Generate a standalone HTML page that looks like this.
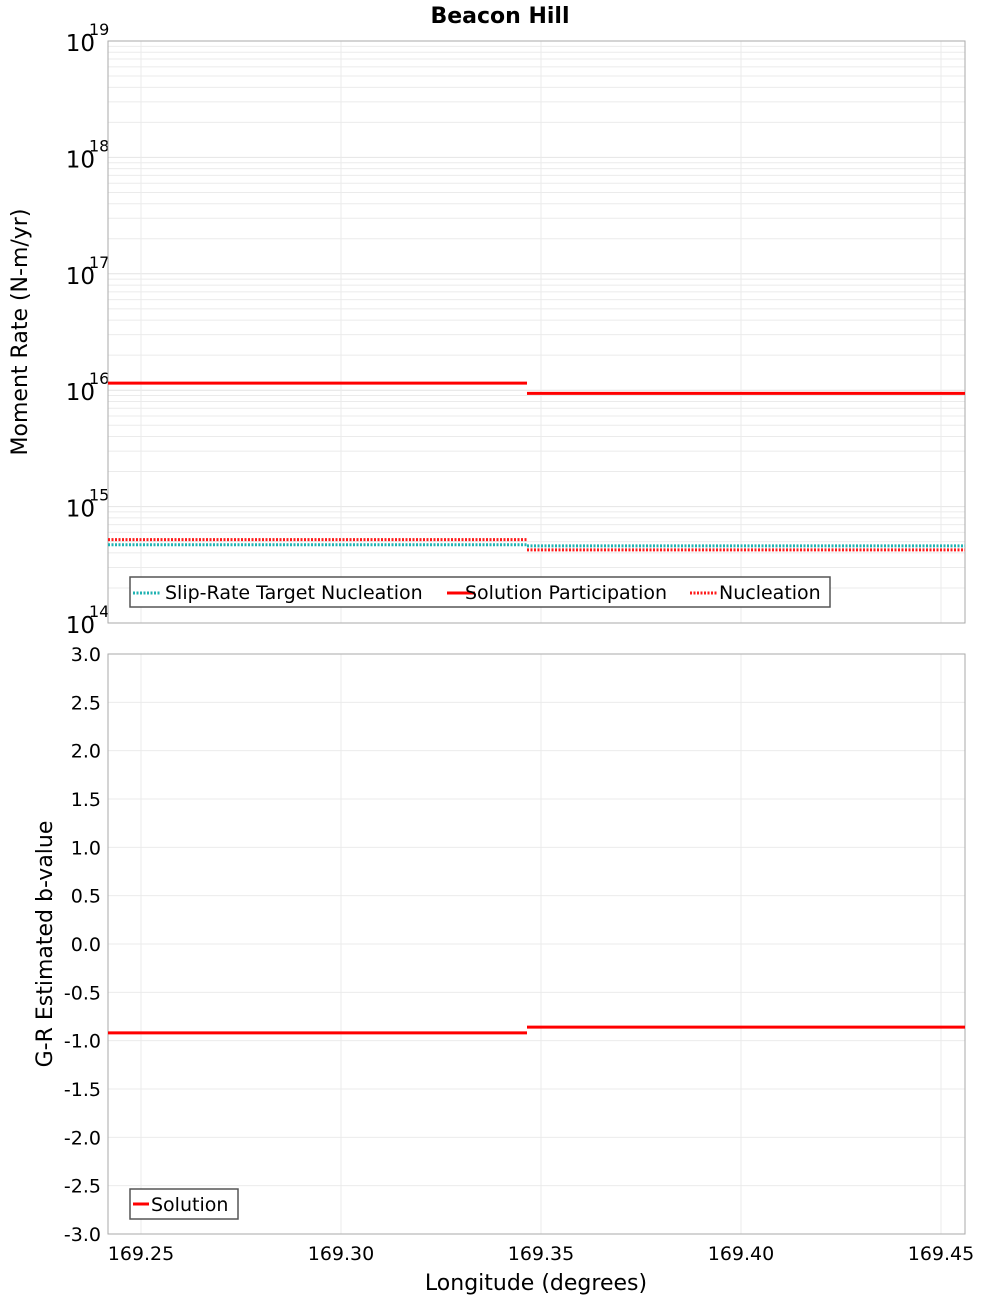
<!DOCTYPE html>
<html><head><meta charset="utf-8"><style>
body{margin:0;background:#fff;width:1000px;height:1300px;overflow:hidden}
svg text{font-family:"DejaVu Sans","Liberation Sans",sans-serif}
</style></head><body>
<svg id="chart" width="1000" height="1300" xmlns="http://www.w3.org/2000/svg">
<text x="500" y="23" text-anchor="middle" font-size="22" font-weight="bold">Beacon Hill</text>
<g id="topg"></g><g id="botg"></g>
<text transform="translate(27,332) rotate(-90)" text-anchor="middle" font-size="22">Moment Rate (N-m/yr)</text>
<text transform="translate(52,944) rotate(-90)" text-anchor="middle" font-size="22">G-R Estimated b-value</text>
<text x="536" y="1290" text-anchor="middle" font-size="22">Longitude (degrees)</text>
</svg>
<script>
const xBreaks=[169.24175,169.3465,169.456];
const xTicks=[169.25,169.30,169.35,169.40,169.45];
const xTickLabels=["169.25","169.30","169.35","169.40","169.45"];
const slipTarget=[4.7e14,4.6e14];
const solPart=[1.15e16,9.4e15];
const nucleation=[5.2e14,4.25e14];
const bValues=[-0.92,-0.86];
const bTicks=[3,2.5,2,1.5,1,0.5,0,-0.5,-1,-1.5,-2,-2.5,-3];
const logDecades=[14,15,16,17,18,19];

const NS="http://www.w3.org/2000/svg";
const L=108,R=965;
const x=v=>L+(v-xBreaks[0])/(xBreaks[2]-xBreaks[0])*(R-L);
const yT=v=>623-(Math.log10(v)-14)/5*582;
const yB=v=>1234-(v+3)/6*580;
function mk(parent,tag,attrs){const e=document.createElementNS(NS,tag);for(const k in attrs)e.setAttribute(k,attrs[k]);parent.appendChild(e);return e;}
const topG=document.getElementById('topg'),botG=document.getElementById('botg');

for(let d=14;d<19;d++)for(let m=2;m<10;m++){const y=yT(m*Math.pow(10,d));const g=mk(topG,'line',{x1:L,x2:R,y1:y,y2:y,stroke:'#ebebeb'});

}
logDecades.forEach(d=>{const y=yT(Math.pow(10,d));const g=mk(topG,'line',{x1:L,x2:R,y1:y,y2:y,stroke:'#e4e4e4'});


const t=mk(topG,'text',{x:95,y:y+10,'font-size':23,'text-anchor':'end'});t.textContent='10';


const s=mk(topG,'text',{x:89,y:y-6,'font-size':16});s.textContent=String(d);

});
xTicks.forEach(v=>{[[41,623,topG],[654,1234,botG]].forEach(([a,b,p])=>{const g=mk(p,'line',{x1:x(v),x2:x(v),y1:a,y2:b,stroke:'#ebebeb'});

});});
const f1=mk(topG,'rect',{x:L,y:41,width:R-L,height:582,fill:'none',stroke:'#aaa'});



function seg(p,vals,yf,attrs,name){for(let i=0;i<vals.length;i++){const y=yf(vals[i]);const l=mk(p,'line',Object.assign({x1:x(xBreaks[i]),x2:x(xBreaks[i+1]),y1:y,y2:y},attrs));

}}
seg(topG,slipTarget,yT,{stroke:'#1fb2b2','stroke-width':3,'stroke-dasharray':'2,1.5'},'slip-rate-target');
seg(topG,nucleation,yT,{stroke:'#ff1a1a','stroke-width':3,'stroke-dasharray':'2,1.5'},'nucleation');
seg(topG,solPart,yT,{stroke:'#ff0000','stroke-width':3},'solution-participation');

const lg=mk(topG,'g',{});


mk(lg,'rect',{x:130,y:577,width:700,height:30,fill:'#fff',stroke:'#555','stroke-width':1.5});
[[133,'#1fb2b2',true,'Slip-Rate Target Nucleation',165],[447,'#ff0000',false,'Solution Participation',465],[690,'#ff1a1a',true,'Nucleation',719]].forEach(([lx,c,d,t,tx])=>{
const ln=mk(lg,'line',{x1:lx,x2:lx+28,y1:593,y2:593,stroke:c,'stroke-width':3,'stroke-dasharray':d?'2,1.5':'none'});


const tt=mk(lg,'text',{x:tx,y:599,'font-size':19});tt.textContent=t;

});

bTicks.forEach(v=>{const y=yB(v);const g=mk(botG,'line',{x1:L,x2:R,y1:y,y2:y,stroke:'#ebebeb'});


const t=mk(botG,'text',{x:101,y:y+7,'font-size':19,'text-anchor':'end'});t.textContent=v.toFixed(1);

});
const f2=mk(botG,'rect',{x:L,y:654,width:R-L,height:580,fill:'none',stroke:'#aaa'});


seg(botG,bValues,yB,{stroke:'#ff0000','stroke-width':3},'b-value');
xTicks.forEach((v,i)=>{const t=mk(botG,'text',{x:x(v),y:1260,'font-size':19,'text-anchor':'middle'});t.textContent=xTickLabels[i];

});
const lg2=mk(botG,'g',{});


mk(lg2,'rect',{x:130,y:1189,width:108,height:30,fill:'#fff',stroke:'#555','stroke-width':1.5});
mk(lg2,'line',{x1:133,x2:149,y1:1204,y2:1204,stroke:'#f00','stroke-width':3});
const st=mk(lg2,'text',{x:151,y:1211,'font-size':19});st.textContent='Solution';


</script>
</body></html>
